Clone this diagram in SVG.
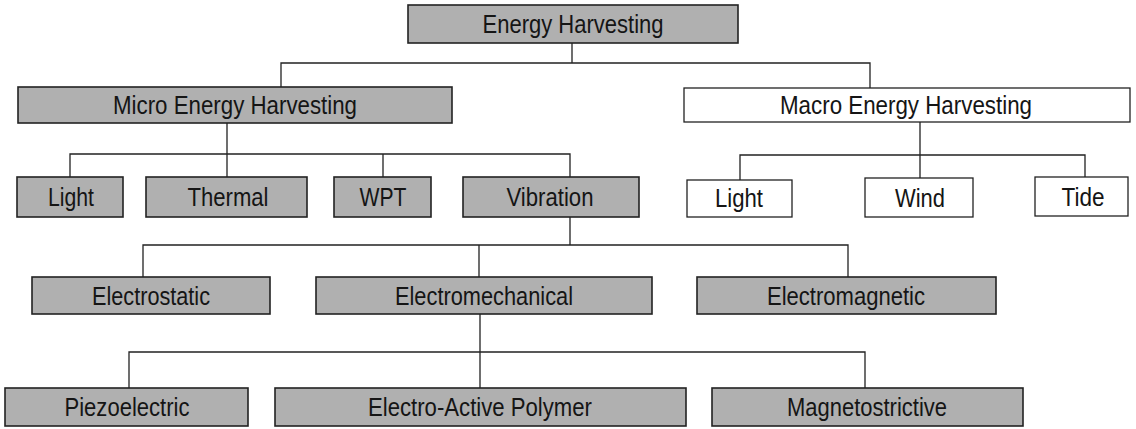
<svg xmlns="http://www.w3.org/2000/svg" width="1136" height="429" viewBox="0 0 1136 429">
<style>
.g{fill:#b0b0b0;stroke:#222;stroke-width:1.6}
.w{fill:#fff;stroke:#222;stroke-width:1.3}
.t{font-family:"Liberation Sans",Arial,sans-serif;font-size:25px;fill:#151515;text-anchor:middle}
.c{fill:none;stroke:#222;stroke-width:1.3}
</style>
<rect width="1136" height="429" fill="#fff"/>
<g id="connectors">
<path class="c" d="M572 43V63M281 87V63H870V88"/>
<path class="c" d="M227 123V177M70 177V154H570V177M383 154V177"/>
<path class="c" d="M920 122V178M740 180V155H1085V177"/>
<path class="c" d="M570 217V245M143 277V245H848V277M479 245V277"/>
<path class="c" d="M480 314V388M129 388V352H865V388"/>
</g>
<g id="energy-harvesting"><rect class="g" x="408" y="5" width="330" height="38"/><text class="t" x="573" y="33" textLength="181" lengthAdjust="spacingAndGlyphs">Energy Harvesting</text></g>
<g id="micro"><rect class="g" x="18" y="87" width="434" height="36"/><text class="t" x="235" y="114" textLength="244" lengthAdjust="spacingAndGlyphs">Micro Energy Harvesting</text></g>
<g id="macro"><rect class="w" x="684" y="88" width="446" height="34"/><text class="t" x="906" y="114" textLength="252" lengthAdjust="spacingAndGlyphs">Macro Energy Harvesting</text></g>
<g id="light-micro"><rect class="g" x="17" y="177" width="106" height="40"/><text class="t" x="71" y="206" textLength="46" lengthAdjust="spacingAndGlyphs">Light</text></g>
<g id="thermal"><rect class="g" x="146" y="177" width="161" height="40"/><text class="t" x="228" y="206" textLength="81" lengthAdjust="spacingAndGlyphs">Thermal</text></g>
<g id="wpt"><rect class="g" x="334" y="177" width="97" height="40"/><text class="t" x="383" y="206" textLength="47" lengthAdjust="spacingAndGlyphs">WPT</text></g>
<g id="vibration"><rect class="g" x="463" y="177" width="176" height="40"/><text class="t" x="550" y="206" textLength="87" lengthAdjust="spacingAndGlyphs">Vibration</text></g>
<g id="light-macro"><rect class="w" x="687" y="180" width="105" height="37"/><text class="t" x="739" y="207" textLength="48" lengthAdjust="spacingAndGlyphs">Light</text></g>
<g id="wind"><rect class="w" x="865" y="178" width="108" height="39"/><text class="t" x="920" y="207" textLength="50" lengthAdjust="spacingAndGlyphs">Wind</text></g>
<g id="tide"><rect class="w" x="1035" y="177" width="93" height="39"/><text class="t" x="1083" y="206" textLength="43" lengthAdjust="spacingAndGlyphs">Tide</text></g>
<g id="electrostatic"><rect class="g" x="32" y="277" width="238" height="37"/><text class="t" x="151" y="305" textLength="118" lengthAdjust="spacingAndGlyphs">Electrostatic</text></g>
<g id="electromechanical"><rect class="g" x="316" y="277" width="336" height="37"/><text class="t" x="484" y="305" textLength="178" lengthAdjust="spacingAndGlyphs">Electromechanical</text></g>
<g id="electromagnetic"><rect class="g" x="697" y="277" width="299" height="37"/><text class="t" x="846" y="305" textLength="158" lengthAdjust="spacingAndGlyphs">Electromagnetic</text></g>
<g id="piezoelectric"><rect class="g" x="5" y="388" width="243" height="38"/><text class="t" x="127" y="416" textLength="125" lengthAdjust="spacingAndGlyphs">Piezoelectric</text></g>
<g id="eap"><rect class="g" x="275" y="388" width="411" height="38"/><text class="t" x="480" y="416" textLength="224" lengthAdjust="spacingAndGlyphs">Electro-Active Polymer</text></g>
<g id="magnetostrictive"><rect class="g" x="712" y="388" width="311" height="38"/><text class="t" x="867" y="416" textLength="160" lengthAdjust="spacingAndGlyphs">Magnetostrictive</text></g>
</svg>
